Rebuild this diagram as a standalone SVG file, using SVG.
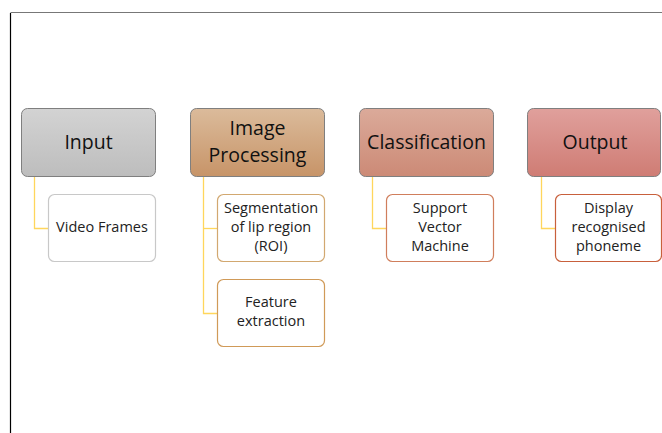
<svg xmlns="http://www.w3.org/2000/svg" width="662" height="433" viewBox="0 0 662 433">
  <defs>
    <linearGradient id="gInput" x1="0" y1="0" x2="0" y2="1">
      <stop offset="0" stop-color="#D3D3D3"/>
      <stop offset="1" stop-color="#BDBDBD"/>
    </linearGradient>
    <linearGradient id="gProc" x1="0" y1="0" x2="0" y2="1">
      <stop offset="0" stop-color="#DBBB9B"/>
      <stop offset="1" stop-color="#C79468"/>
    </linearGradient>
    <linearGradient id="gClass" x1="0" y1="0" x2="0" y2="1">
      <stop offset="0" stop-color="#DBAA9A"/>
      <stop offset="1" stop-color="#CC8A76"/>
    </linearGradient>
    <linearGradient id="gOut" x1="0" y1="0" x2="0" y2="1">
      <stop offset="0" stop-color="#E0A09C"/>
      <stop offset="1" stop-color="#CF7C74"/>
    </linearGradient>
    <style>
      .head { stroke: #7F7F7F; stroke-width: 1; }
      .headtxt { font-family: "Open Sans", "Liberation Sans", sans-serif; font-size: 19.5px; fill: #111; text-anchor: middle; }
      .child { fill: #FFFFFF; stroke-width: 1.2; }
      .ctxt { font-family: "Open Sans", "Liberation Sans", sans-serif; font-size: 14.5px; fill: #222; text-anchor: middle; }
      .conn { fill: none; stroke: #FFD65C; stroke-width: 1.3; }
    </style>
  </defs>

  <rect width="662" height="433" fill="#FFFFFF"/>
  <!-- outer frame: top and left edges -->
  <line x1="10.5" y1="12.5" x2="662" y2="12.5" stroke="#777" stroke-width="1.2"/>
  <line x1="10.5" y1="13" x2="10.5" y2="433" stroke="#000" stroke-width="1.2"/>

  <!-- connectors -->
  <g id="connectors">
    <path class="conn" d="M34.5 177 V228.5 H48"/>
    <path class="conn" d="M203.5 177 V313.5 H217"/>
    <path class="conn" d="M203.5 228.5 H217"/>
    <path class="conn" d="M372.5 177 V228.5 H386"/>
    <path class="conn" d="M541.5 177 V228.5 H555"/>
  </g>

  <!-- top-level stages -->
  <g id="input">
    <rect class="head" x="21.5" y="108.5" width="134" height="68" rx="6" fill="url(#gInput)"/>
    <text class="headtxt" x="88.5" y="149">Input</text>
  </g>
  <g id="image-processing">
    <rect class="head" x="190.5" y="108.5" width="134" height="68" rx="6" fill="url(#gProc)"/>
    <text class="headtxt" x="257.5" y="135">Image</text>
    <text class="headtxt" x="257.5" y="162">Processing</text>
  </g>
  <g id="classification">
    <rect class="head" x="359.5" y="108.5" width="134" height="68" rx="6" fill="url(#gClass)"/>
    <text class="headtxt" x="426.5" y="149">Classification</text>
  </g>
  <g id="output">
    <rect class="head" x="527.5" y="108.5" width="133" height="68" rx="6" fill="url(#gOut)"/>
    <text class="headtxt" x="595" y="149">Output</text>
  </g>

  <!-- sub-steps -->
  <g id="video-frames">
    <rect class="child" x="48.5" y="194.5" width="107" height="67" rx="6" stroke="#C8C8C8"/>
    <text class="ctxt" x="102" y="232">Video Frames</text>
  </g>
  <g id="segmentation">
    <rect class="child" x="217.5" y="194.5" width="107" height="67" rx="6" stroke="#D2A870"/>
    <text class="ctxt" x="271" y="213">Segmentation</text>
    <text class="ctxt" x="271" y="232">of lip region</text>
    <text class="ctxt" x="271" y="251">(ROI)</text>
  </g>
  <g id="feature-extraction">
    <rect class="child" x="217.5" y="279.5" width="107" height="67" rx="6" stroke="#D09A58"/>
    <text class="ctxt" x="271" y="307">Feature</text>
    <text class="ctxt" x="271" y="326">extraction</text>
  </g>
  <g id="svm">
    <rect class="child" x="386.5" y="194.5" width="107" height="67" rx="6" stroke="#D07E5C"/>
    <text class="ctxt" x="440" y="213">Support</text>
    <text class="ctxt" x="440" y="232">Vector</text>
    <text class="ctxt" x="440" y="251">Machine</text>
  </g>
  <g id="display">
    <rect class="child" x="555.5" y="194.5" width="106" height="67" rx="6" stroke="#C8603C"/>
    <text class="ctxt" x="608.5" y="213">Display</text>
    <text class="ctxt" x="608.5" y="232">recognised</text>
    <text class="ctxt" x="608.5" y="251">phoneme</text>
  </g>
</svg>
